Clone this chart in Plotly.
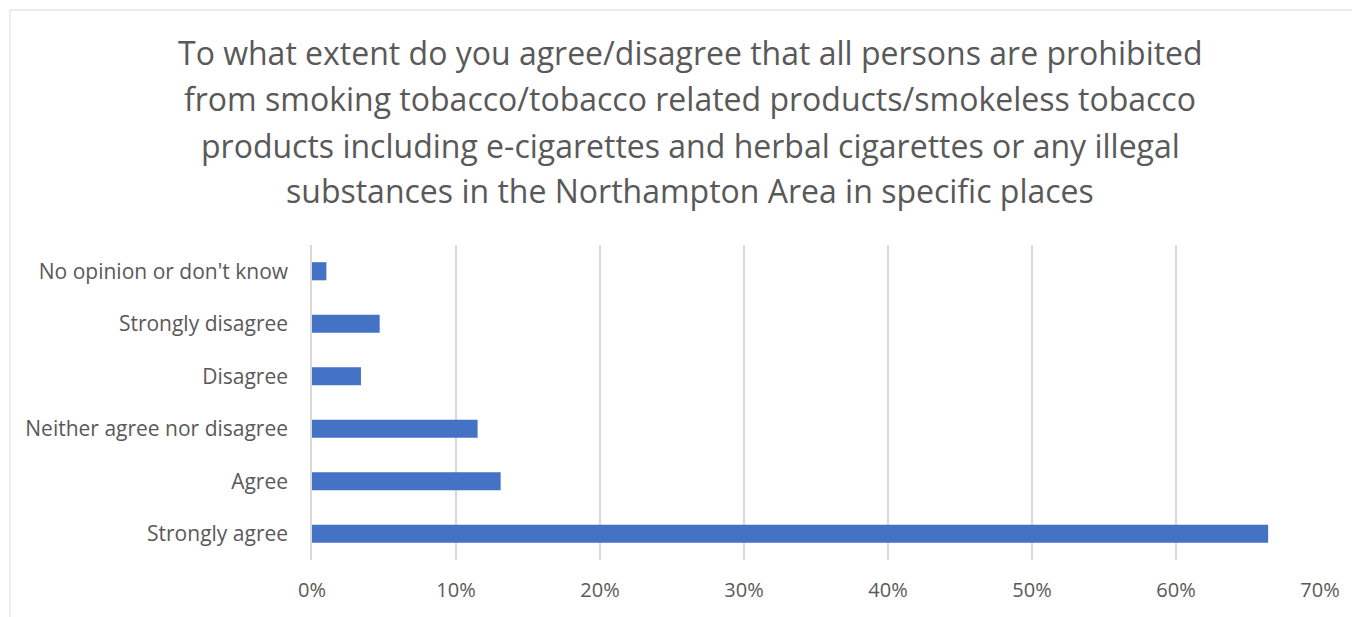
import plotly.graph_objects as go

categories = ["Strongly agree", "Agree", "Neither agree nor disagree", "Disagree",
              "Strongly disagree", "No opinion or don't know"]
values = [0.664, 0.131, 0.115, 0.034, 0.047, 0.010]
tick_vals = [0, 0.1, 0.2, 0.3, 0.4, 0.5, 0.6, 0.7]
tick_text = ["0%", "10%", "20%", "30%", "40%", "50%", "60%", "70%"]
title_lines = [
    "To what extent do you agree/disagree that all persons are prohibited",
    "from smoking tobacco/tobacco related products/smokeless tobacco",
    "products including e-cigarettes and herbal cigarettes or any illegal",
    "substances in the Northampton Area in specific places",
]

OFF = 8  # default body margin of the html page
W, H = 1360 - OFF, 617 - OFF
ML, MR, MT, MB = 312 - OFF, 40, 245 - OFF, 57
PW, PH = W - ML - MR, H - MT - MB
GREY = "#595959"
FONT = "Open Sans"

fig = go.Figure(go.Bar(
    y=categories, x=values, orientation="h",
    marker=dict(color="#4472C4", line=dict(width=0)),
))

def px_x(p):
    return (p - OFF - ML) / PW

def px_y(p):
    return (H - MB - (p - OFF)) / PH

annotations = []
for line, yc in zip(title_lines, [52, 98, 145, 190]):
    annotations.append(dict(
        text=line, x=px_x(690), y=px_y(yc), xref="paper", yref="paper",
        xanchor="center", yanchor="middle", showarrow=False,
        font=dict(family=FONT, size=32, color=GREY),
    ))

fig.update_layout(
    width=W, height=H,
    margin=dict(l=ML, r=MR, t=MT, b=MB),
    paper_bgcolor="white", plot_bgcolor="white",
    bargap=0.655,
    showlegend=False,
    annotations=annotations,
    font=dict(family=FONT, color=GREY),
    xaxis=dict(
        range=[0, 0.7], tickvals=tick_vals, ticktext=tick_text,
        showgrid=True, gridcolor="#D9D9D9", gridwidth=1.5,
        zeroline=False, showline=False, ticks="",
        tickfont=dict(family=FONT, size=20, color=GREY),
        ticklabelstandoff=16,
    ),
    yaxis=dict(
        showgrid=False, zeroline=False, ticks="",
        showline=True, linecolor="#D9D9D9", linewidth=1.5,
        tickfont=dict(family=FONT, size=21, color=GREY),
        ticklabelstandoff=18,
    ),
    shapes=[dict(
        type="rect", xref="paper", yref="paper",
        x0=px_x(10), x1=px_x(1359), y0=px_y(625), y1=px_y(10),
        line=dict(color="#D9D9D9", width=1), fillcolor="rgba(0,0,0,0)", layer="below",
    )],
)

fig.write_html("out.html")
